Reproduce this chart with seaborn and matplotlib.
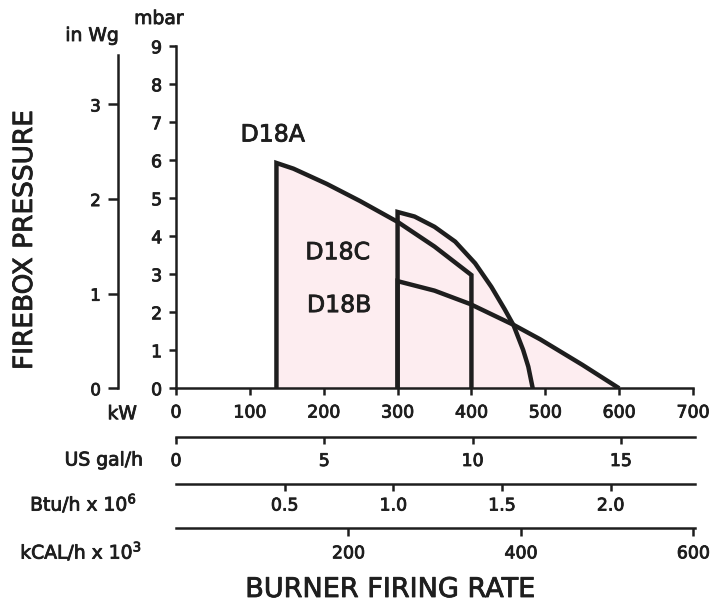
import matplotlib
matplotlib.use("Agg")
import matplotlib.pyplot as plt
import matplotlib.patheffects as pe
import seaborn as sns

sns.set_theme(style="white")
plt.rcParams['font.family'] = ['DejaVu Sans']

# ---------------- data ----------------
d18a_kw = [136, 136, 159, 204, 249, 300, 350, 400, 400]
d18a_mbar = [0, 5.93, 5.78, 5.38, 4.93, 4.38, 3.73, 2.98, 0]

d18c_kw = [300, 300, 323, 350, 378, 405, 427, 445, 457, 470, 477, 483]
d18c_mbar = [0, 4.64, 4.52, 4.25, 3.86, 3.29, 2.67, 2.08, 1.66, 1.01, 0.57, 0]

d18b_kw = [300, 300, 350, 398, 457, 493, 550, 600]
d18b_mbar = [0, 2.82, 2.57, 2.22, 1.67, 1.29, 0.62, 0]

labels = ["D18A", "D18C", "D18B"]
label_kw = [131, 219, 221]
label_mbar = [6.68, 3.58, 2.19]

kw_ticks = [0, 100, 200, 300, 400, 500, 600, 700]
mbar_ticks = [0, 1, 2, 3, 4, 5, 6, 7, 8, 9]
inwg_ticks = [0, 1, 2, 3]
gal_ticks = [0, 5, 10, 15]
btu_ticks = [0.5, 1.0, 1.5, 2.0]
btu_labels = ["0.5", "1.0", "1.5", "2.0"]
kcal_ticks = [200, 400, 600]

MBAR_PER_INWG = 2.49
KW_PER_GAL = 40.0
KW_PER_MBTU = 293.07
KW_PER_MKCAL = 1.163

# ---------------- figure ----------------
W, H = 712, 606
fig = plt.figure(figsize=(W / 100, H / 100), dpi=100)
fig.patch.set_facecolor("white")

def fx(px):
    return px / W

def fy(py):
    return 1 - py / H

x0, x1 = 176, 693
y0, y1 = 388.3, 46.3
ax = fig.add_axes([fx(x0), fy(y0), fx(x1) - fx(x0), fy(y1) - fy(y0)])
ax.set_facecolor("none")

ink = "#1e1e1e"
pink = "#fdedf0"
lw_curve = 3.2
lw_axis = 1.8
heavy = [pe.withStroke(linewidth=0.6, foreground=ink)]

curves = [(d18a_kw, d18a_mbar), (d18c_kw, d18c_mbar), (d18b_kw, d18b_mbar)]
for xs, ys in curves:
    ax.fill(xs, ys, color=pink, lw=0, zorder=1)
for xs, ys in curves:
    sns.lineplot(x=xs, y=ys, sort=False, estimator=None, ax=ax, color=ink,
                 lw=lw_curve, zorder=3)
for line in ax.get_lines():
    line.set_solid_joinstyle("miter")
    line.set_solid_capstyle("butt")

for t, xk, ym in zip(labels, label_kw, label_mbar):
    ax.text(xk, ym, t, fontsize=17, color=ink, ha="center", va="center", zorder=4)

ax.set_xlim(0, 700)
ax.set_ylim(0, 9)
ax.set_xticks(kw_ticks)
ax.set_yticks(mbar_ticks)
ax.set_xlabel("")
ax.set_ylabel("")
for s in ["top", "right"]:
    ax.spines[s].set_visible(False)
for s in ["left", "bottom"]:
    ax.spines[s].set_color(ink)
    ax.spines[s].set_linewidth(lw_axis)
ax.tick_params(axis="both", which="major", direction="out", length=5, width=lw_axis,
               color=ink, labelcolor=ink, labelsize=12.5, bottom=True, left=True)
ax.tick_params(axis="x", pad=6)
ax.tick_params(axis="y", pad=5)
ax.grid(False)

# in Wg axis
sec = ax.secondary_yaxis((117.5 - x0) / (x1 - x0),
                         functions=(lambda m: m / MBAR_PER_INWG, lambda w: w * MBAR_PER_INWG))
sec.set_yticks(inwg_ticks)
sec.spines["left"].set_linewidth(lw_axis)
sec.spines["left"].set_color(ink)
sec.spines["left"].set_bounds(0, 3.52)
sec.tick_params(direction="out", length=7, width=lw_axis, color=ink, labelcolor=ink,
                labelsize=12, pad=5)

# bottom unit scales
def unit_axis(py, xmax, ticks, ticklabels, tlen=5):
    a = fig.add_axes([fx(x0), fy(py), fx(x1 + 2) - fx(x0), 0.0001])
    a.set_facecolor("none")
    a.set_xlim(0, xmax)
    a.set_yticks([])
    for s in ["top", "left", "right"]:
        a.spines[s].set_visible(False)
    a.spines["bottom"].set_color(ink)
    a.spines["bottom"].set_linewidth(lw_axis)
    a.set_xticks(ticks)
    a.set_xticklabels(ticklabels)
    a.tick_params(axis="x", direction="out", length=tlen, width=lw_axis, color=ink,
                  labelcolor=ink, labelsize=12.5, pad=6, bottom=True)
    a.grid(False)
    return a

unit_axes = [
    unit_axis(436.7, 700 / KW_PER_GAL, gal_ticks, [str(v) for v in gal_ticks]),
    unit_axis(484.0, 700 / KW_PER_MBTU, btu_ticks, btu_labels),
    unit_axis(527.7, 700 / KW_PER_MKCAL, kcal_ticks, [str(v) for v in kcal_ticks], tlen=6),
]
unit_axes[1].tick_params(axis="x", pad=4)

# texts
fs_row = 13.5
fig.text(fx(137), fy(413.7), "kW", ha="right", va="center", fontsize=fs_row, color=ink)
fig.text(fx(143), fy(460), "US gal/h", ha="right", va="center", fontsize=fs_row, color=ink)
fig.text(fx(137), fy(503), r"Btu/h x 10$^6$", ha="right", va="center", fontsize=fs_row, color=ink)
fig.text(fx(142), fy(551), r"kCAL/h x 10$^3$", ha="right", va="center", fontsize=fs_row, color=ink)
fig.text(fx(92), fy(35.5), "in Wg", ha="center", va="center", fontsize=13.5, color=ink)
fig.text(fx(159), fy(18.5), "mbar", ha="center", va="center", fontsize=13.5, color=ink)
fig.text(fx(25), fy(240), "FIREBOX PRESSURE", ha="center", va="center", rotation=90,
         fontsize=19, color=ink)
fig.text(fx(390), fy(590), "BURNER FIRING RATE", ha="center", va="center",
         fontsize=19.5, color=ink)

# slightly heavier text, like the printed original (after a draw so all tick labels exist)
fig.canvas.draw()
for a in [ax, sec] + unit_axes:
    for t in a.get_xticklabels() + a.get_yticklabels():
        t.set_path_effects(heavy)
for t in fig.findobj(matplotlib.text.Text):
    if t.get_text():
        t.set_path_effects(heavy)

fig.savefig("out.png", dpi=100, facecolor="white")
